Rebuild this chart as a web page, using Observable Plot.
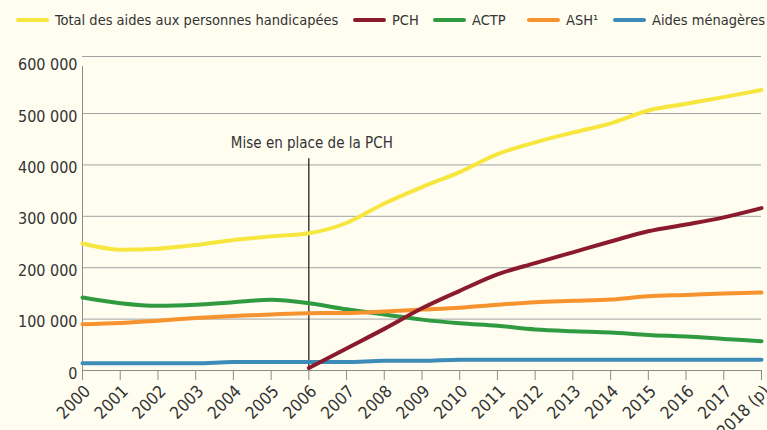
<!DOCTYPE html>
<html><head><meta charset="utf-8">
<script src="https://cdn.jsdelivr.net/npm/d3@7"></script>
<script src="https://cdn.jsdelivr.net/npm/@observablehq/plot@0.6"></script>
<style>
body{margin:0;background:#fefdf0;font-family:"Liberation Sans Narrow","DejaVu Sans Condensed",sans-serif;}
#legend{position:relative;height:40px;width:767px;color:#333;font-size:14.5px;}
.item{position:absolute;top:10px;display:flex;align-items:center;white-space:nowrap;line-height:20px}
.sw{display:inline-block;width:33px;height:4px;border-radius:2px;margin-right:6px}
#chart svg{display:block;overflow:visible}
</style></head><body>
<div id="legend"></div>
<div id="chart"></div>
<script>
const years = [2000,2001,2002,2003,2004,2005,2006,2007,2008,2009,2010,2011,2012,2013,2014,2015,2016,2017,2018];
const yearLabels = ["2000","2001","2002","2003","2004","2005","2006","2007","2008","2009","2010","2011","2012","2013","2014","2015","2016","2017","2018 (p)"];
const seriesNames = ["Total des aides aux personnes handicapées","PCH","ACTP","ASH¹","Aides ménagères"];
const seriesColors = ["#f6e63e","#8a1b2d","#2f9a40","#f7932f","#3d8bb7"];
const total = [247000,235000,237000,244000,254000,261000,267000,287000,325000,357000,386000,421000,444000,463000,481000,506000,519000,532000,546000];
const pchYears = [2006,2007,2008,2009,2010,2011,2012,2013,2014,2015,2016,2017,2018];
const pch = [5000,43000,81000,121000,155000,187000,209000,230000,251000,271000,284000,298000,316000];
const actp = [142000,131000,126000,128000,133000,137500,131000,119000,109000,99000,92000,87000,80000,76500,74000,69000,66000,61500,57000];
const ash = [90000,92500,97000,102000,106000,109000,111500,112000,115000,118500,122000,128000,133000,135500,138000,144500,147000,150000,152000];
const aidesMenageres = [14000,14000,14000,14000,16500,16500,16500,16500,19000,19000,21000,21000,21000,21000,21000,21000,21000,21000,21000];
const yTicks = [0,100000,200000,300000,400000,500000,600000];
const gridValues = [100000,200000,300000,400000,500000];
const yMax = 611000;
const annotationYear = 2006;
const annotationLabel = "Mise en place de la PCH";
const annotationTop = 412000;
const annotationTextY = 442000;

// legend
const legendLeft = [16,353,433,527,613];
const legend = document.getElementById("legend");
seriesNames.forEach((n,i)=>{
  const d = document.createElement("div");
  d.className="item"; d.style.left = legendLeft[i]+"px";
  const s = document.createElement("span"); s.className="sw"; s.style.background=seriesColors[i];
  const t = document.createElement("span"); t.textContent = n;
  d.appendChild(s); d.appendChild(t); legend.appendChild(d);
});

const rows = [];
years.forEach((y,i)=>rows.push({series:seriesNames[0],year:y,value:total[i]}));
years.forEach((y,i)=>rows.push({series:seriesNames[4],year:y,value:aidesMenageres[i]}));
years.forEach((y,i)=>rows.push({series:seriesNames[2],year:y,value:actp[i]}));
years.forEach((y,i)=>rows.push({series:seriesNames[3],year:y,value:ash[i]}));
pchYears.forEach((y,i)=>rows.push({series:seriesNames[1],year:y,value:pch[i]}));

const fmt = d => d3.format(",")(d).replace(/,/g," ");
const chart = Plot.plot({
  width:767, height:390,
  marginTop:16, marginBottom:60, marginLeft:82, marginRight:6,
  style:{background:"transparent", fontFamily:'"Liberation Sans Narrow","DejaVu Sans Condensed",sans-serif', fontSize:"16px", color:"#333", overflow:"visible"},
  x:{domain:[2000,2018]},
  y:{domain:[0,yMax]},
  color:{domain:seriesNames, range:seriesColors},
  marks:[
    Plot.ruleY(gridValues,{stroke:"#a3a3a3", strokeWidth:1}),
    Plot.ruleY([yMax],{stroke:"#a3a3a3", strokeWidth:1}),
    Plot.ruleY([0],{stroke:"#8c8c8c", strokeWidth:1}),
    Plot.ruleX([2000],{y1:0,y2:yMax,stroke:"#8c8c8c",insetBottom:-10}),
    Plot.axisX({ticks:years, tickFormat:()=>null, tickSize:10, stroke:"#8c8c8c", label:null}),
    Plot.axisX({ticks:years, tickFormat:(d)=>yearLabels[years.indexOf(d)], tickSize:0, tickRotate:-45, fill:"#333", label:null, tickPadding:4, fontSize:17, dx:5, dy:14}),
    Plot.axisY({ticks:yTicks, tickFormat:fmt, tickSize:0, tickPadding:5, fill:"#333", label:null, dy:3}),
    Plot.ruleX([annotationYear],{y1:0,y2:annotationTop,stroke:"#111",strokeWidth:1.2}),
    Plot.text([annotationLabel],{x:annotationYear,y:annotationTextY,text:d=>d,fill:"#333",fontSize:15, dx:3}),
    Plot.line(rows,{x:"year",y:"value",z:"series",stroke:"series",strokeWidth:4,curve:"monotone-x",strokeLinecap:"round"})
  ]
});
document.getElementById("chart").appendChild(chart);
</script>
</body></html>
